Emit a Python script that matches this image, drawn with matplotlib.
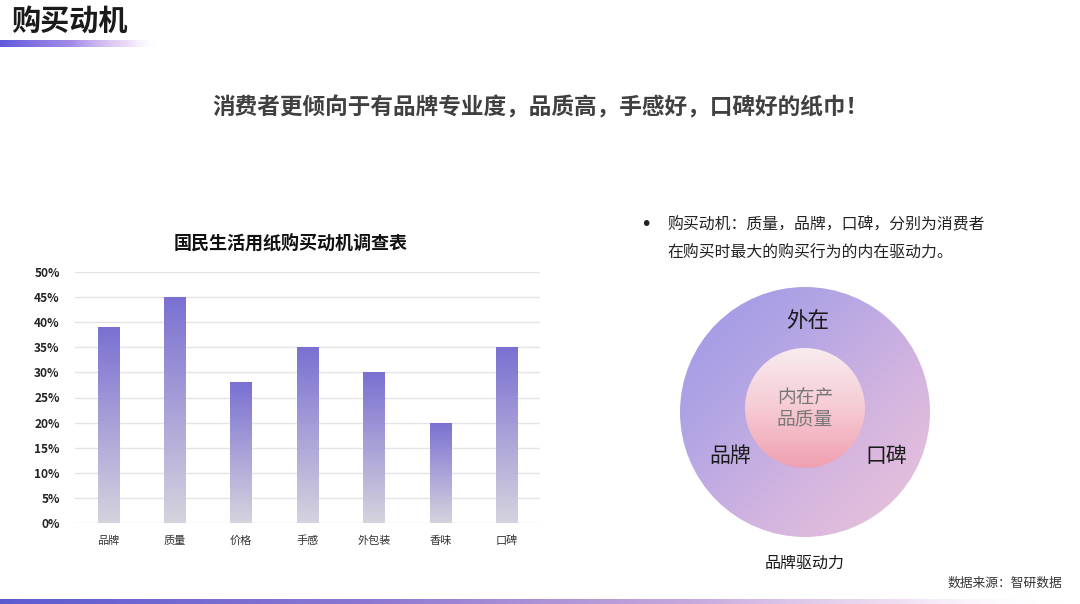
import numpy as np
import matplotlib
matplotlib.use("Agg")
import matplotlib.pyplot as plt
from matplotlib.colors import LinearSegmentedColormap
from matplotlib.patches import Circle

plt.rcParams['font.family'] = ['Noto Sans CJK SC', 'DejaVu Sans']

# ---- data ----
categories = ["品牌", "质量", "价格", "手感", "外包装", "香味", "口碑"]
values = [39, 45, 28, 35, 30, 20, 35]
yticks = [0, 5, 10, 15, 20, 25, 30, 35, 40, 45, 50]
ytick_labels = [f"{v}%" for v in yticks]

page_title = "购买动机"
headline = "消费者更倾向于有品牌专业度，品质高，手感好，口碑好的纸巾！"
chart_title = "国民生活用纸购买动机调查表"
bullet_lines = ["购买动机：质量，品牌，口碑，分别为消费者", "在购买时最大的购买行为的内在驱动力。"]
outer_labels = ["外在", "品牌", "口碑"]
inner_label = "内在产\n品质量"
circle_caption = "品牌驱动力"
source = "数据来源：智研数据"

W, H = 1080, 604
fig = plt.figure(figsize=(W / 100, H / 100), dpi=100)
fig.patch.set_facecolor("white")

# background axes in pixel coordinates
bg = fig.add_axes([0, 0, 1, 1])
bg.set_xlim(0, W)
bg.set_ylim(H, 0)
bg.axis("off")

# top-left title and gradient underline
bg.text(11, 21, page_title, fontsize=21, fontweight="bold", color="#1a1a1a",
        ha="left", va="center")
grad = np.linspace(0, 1, 256).reshape(1, -1)
top_cmap = LinearSegmentedColormap.from_list(
    "top", [(0, (0.38, 0.35, 0.86, 1)), (0.45, (0.60, 0.50, 0.90, 0.9)),
            (0.8, (0.85, 0.72, 0.95, 0.5)), (1, (1, 1, 1, 0))])
bg.imshow(grad, extent=[0, 160, 47, 40], cmap=top_cmap, aspect="auto", zorder=1)

# bottom gradient line
bot_cmap = LinearSegmentedColormap.from_list(
    "bot", [(0, (0.36, 0.36, 0.82, 1)), (0.35, (0.55, 0.47, 0.82, 1)),
            (0.65, (0.75, 0.62, 0.85, 0.9)), (0.85, (0.90, 0.80, 0.93, 0.6)),
            (1, (1, 1, 1, 0))])
bg.imshow(grad, extent=[0, 1065, 604, 599], cmap=bot_cmap, aspect="auto", zorder=1)

# headline
bg.text(540, 108, headline, fontsize=16.3, fontweight="bold", color="#404040",
        ha="center", va="center")

# chart title
bg.text(291, 243, chart_title, fontsize=13, fontweight="bold", color="#111111",
        ha="center", va="center")

# bullet text
bg.text(640, 224, "•", fontsize=14, color="#222222", ha="left", va="center",
        family="DejaVu Sans")
bg.text(667, 225, bullet_lines[0], fontsize=11.4, color="#222222", ha="left", va="center")
bg.text(667, 253, bullet_lines[1], fontsize=11.4, color="#222222", ha="left", va="center")

# circles
cx, cy, R = 805, 412, 125
outer = Circle((cx, cy), R, facecolor="none", edgecolor="none")
bg.add_patch(outer)
n = 300
xx, yy = np.meshgrid(np.linspace(0, 1, n), np.linspace(0, 1, n))
diag = (xx + yy) / 2
outer_cmap = LinearSegmentedColormap.from_list(
    "outer", ["#9b97e8", "#b5a6e4", "#d6b6df", "#ecc4da"])
im = bg.imshow(diag, extent=[cx - R, cx + R, cy + R, cy - R], cmap=outer_cmap,
               aspect="auto", zorder=2, vmin=0, vmax=1)
im.set_clip_path(outer)

r = 60
icy = 408
inner = Circle((cx, icy), r, facecolor="none", edgecolor="none")
bg.add_patch(inner)
vert = np.linspace(0, 1, 256).reshape(-1, 1)
inner_cmap = LinearSegmentedColormap.from_list(
    "inner", ["#f8ecef", "#f6cbd4", "#ef9fb0"])
im2 = bg.imshow(vert, extent=[cx - r, cx + r, icy + r, icy - r], cmap=inner_cmap,
                aspect="auto", zorder=3, vmin=0, vmax=1)
im2.set_clip_path(inner)

bg.text(808, 321, outer_labels[0], fontsize=15.5, color="#1a1a1a", ha="center", va="center", zorder=4)
bg.text(730, 456, outer_labels[1], fontsize=15, color="#1a1a1a", ha="center", va="center", zorder=4)
bg.text(886, 456, outer_labels[2], fontsize=15, color="#1a1a1a", ha="center", va="center", zorder=4)
bg.text(805, 409, inner_label, fontsize=13.5, color="#777777", ha="center", va="center",
        linespacing=1.0, zorder=4)
bg.text(805, 563, circle_caption, fontsize=11.5, color="#1a1a1a", ha="center", va="center")

# source
bg.text(1062, 583, source, fontsize=9.2, color="#333333", ha="right", va="center")

# ---- bar chart ----
ax = fig.add_axes([75 / W, (H - 523) / H, 465 / W, 251 / H])
ax.set_xlim(-0.5, len(categories) - 0.5)
ax.set_ylim(0, 50)
ax.set_facecolor("none")
for s in ax.spines.values():
    s.set_visible(False)
ax.set_yticks(yticks)
ax.set_yticklabels(ytick_labels, fontsize=8.6, fontweight="heavy", color="#222222")
ax.set_xticks(range(len(categories)))
ax.set_xticklabels(categories, fontsize=8, color="#333333")
ax.tick_params(length=0, pad=11)
ax.tick_params(axis="x", pad=9)
ax.grid(axis="y", color="#e3e3e8", linewidth=1)
ax.set_axisbelow(True)

bw = 0.32
bars = ax.bar(range(len(categories)), values, width=bw, color="none", zorder=2)
bar_cmap = LinearSegmentedColormap.from_list("bar", ["#d6d3de", "#a9a2d8", "#7a70d2"])
bgrad = np.linspace(0, 1, 256).reshape(-1, 1)
for i, (b, v) in enumerate(zip(bars, values)):
    im3 = ax.imshow(bgrad, extent=[i - bw / 2, i + bw / 2, 0, v], origin="lower",
                    cmap=bar_cmap, aspect="auto", zorder=3)
    im3.set_clip_path(b)
ax.set_xlim(-0.5, len(categories) - 0.5)
ax.set_ylim(0, 50)

fig.savefig("out.png", dpi=100)
